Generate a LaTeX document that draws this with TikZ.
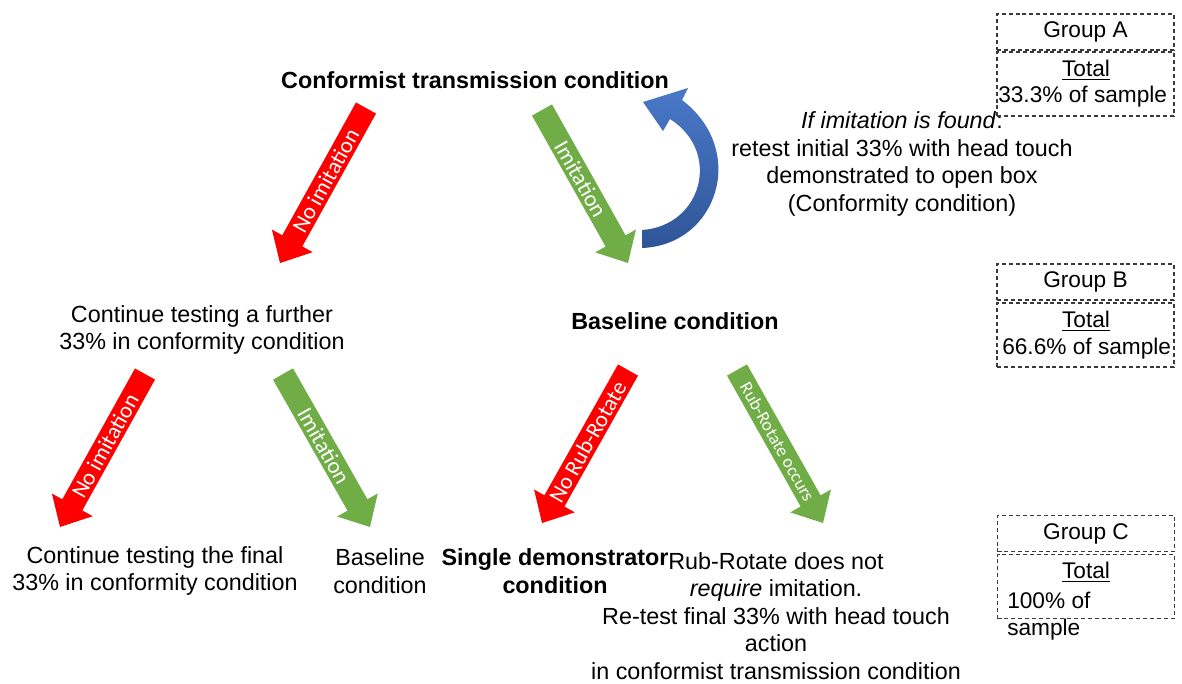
\documentclass[tikz,border=0pt]{standalone}
\usepackage{fontspec}
\setmainfont{Liberation Sans}
\newfontfamily\arrowfont{Carlito}
\usetikzlibrary{calc}

\definecolor{arrowred}{HTML}{FF0000}
\definecolor{arrowgreen}{HTML}{70AD47}
\definecolor{curveblue}{HTML}{4A78C8}
\definecolor{curvebluedark}{HTML}{2F5597}
\definecolor{boxline}{HTML}{3A3A3A}

% Block arrow: fill colour, tail, tip, label, label size, label position
\newcommand\blockarrow[6]{%
  \coordinate (ba-base) at ($(#3)!19pt!(#2)$);
  \fill[#1] ($(#2)!8.6pt!90:(#3)$) -- ($(ba-base)!8.6pt!90:(#3)$)
    -- ($(ba-base)!17.5pt!90:(#3)$) -- (#3)
    -- ($(ba-base)!17.5pt!-90:(#3)$) -- ($(ba-base)!8.6pt!-90:(#3)$)
    -- ($(#2)!8.6pt!-90:(#3)$) -- cycle;
  \path (#2) -- (#3) node[arrowlabel, font=\arrowfont\fontsize{#5}{#5}\selectfont, pos=#6] {#4};
}

\tikzset{
  maintext/.style={align=center, inner sep=0pt, text=black,
    font=\fontsize{17.5}{20.7}\selectfont},
  boldtext/.style={maintext, font=\bfseries\fontsize{17.5}{20.7}\selectfont},
  arrowlabel/.style={sloped, inner sep=0pt, text=white},
  grouphead/.style={draw=boxline, dashed, dash pattern=on 3pt off 2.2pt,
    line width=0.8pt, minimum width=132.75pt, minimum height=27pt, inner sep=0pt,
    font=\fontsize{17}{20}\selectfont},
  groupbody/.style={draw=boxline, dashed, dash pattern=on 3pt off 2.2pt,
    line width=0.8pt, minimum width=132.75pt, minimum height=48pt, inner sep=0pt},
  grouptext/.style={inner sep=0pt, font=\fontsize{17}{20}\selectfont},
}

\begin{document}
\begin{tikzpicture}[x=0.75pt, y=-0.75pt]
\useasboundingbox (0,0) rectangle (1182,683);

% Condition texts
\node[boldtext] (conf) at (475,80) {Conformist transmission condition};
\node[maintext] (note) at (902,164) {\textit{If imitation is found}:\\
  retest initial 33\% with head touch\\demonstrated to open box\\(Conformity condition)};
\node[maintext] (further) at (202,330) {Continue testing a further\\33\% in conformity condition};
\node[boldtext] (base1) at (675,321) {Baseline condition};
\node[maintext] (final) at (155,571) {Continue testing the final\\33\% in conformity condition};
\node[maintext] (base2) at (380,571) {Baseline\\condition};
\node[boldtext] (single) at (555,571) {Single demonstrator\\condition};
\node[maintext] (retest) at (776,616) {Rub-Rotate does not\\\textit{require} imitation.\\
  Re-test final 33\% with head touch\\action\\in conformist transmission condition};

% Arrow end points
\coordinate (a1t) at (366,108); \coordinate (a1h) at (280,263);
\coordinate (a2t) at (542,110); \coordinate (a2h) at (628,263);
\coordinate (a3t) at (145,374); \coordinate (a3h) at (60,527);
\coordinate (a4t) at (283,374); \coordinate (a4h) at (370,527);
\coordinate (a5t) at (628,370); \coordinate (a5h) at (542,523);
\coordinate (a6t) at (737,370); \coordinate (a6h) at (823,523);

\blockarrow{arrowred}{a1t}{a1h}{No imitation}{17}{0.47}
\blockarrow{arrowgreen}{a2t}{a2h}{Imitation}{17}{0.45}
\blockarrow{arrowred}{a3t}{a3h}{No imitation}{17}{0.47}
\blockarrow{arrowgreen}{a4t}{a4h}{Imitation}{17}{0.47}
\blockarrow{arrowred}{a5t}{a5h}{No Rub-Rotate}{17}{0.47}
\blockarrow{arrowgreen}{a6t}{a6h}{Rub-Rotate occurs}{13.5}{0.47}

% Curved return arrow
\shade[top color=curveblue, bottom color=curvebluedark]
  (642,248) .. controls (718,245) and (748,150) .. (682,100)
  -- (688,88) -- (643,102) -- (663,131) -- (670,119)
  .. controls (722,152) and (702,226) .. (642,230) -- cycle;

% Group boxes
\node[grouphead] (gA) at (1085.5,32) {Group A};
\node[groupbody] (gAb) at (1085.5,84) {};
\node[grouptext] (gAt) at (1086,70) {\underline{Total}};
\node[grouptext, anchor=west] (gAp) at (998,97) {33.3\% of sample};

\node[grouphead] (gB) at (1085.5,282) {Group B};
\node[groupbody] (gBb) at (1085.5,335) {};
\node[grouptext] (gBt) at (1086,321) {\underline{Total}};
\node[grouptext, anchor=west] (gBp) at (1002,349) {66.6\% of sample};

\node[grouphead] (gC) at (1086,533.5) {Group C};
\node[groupbody] (gCb) at (1086,586.5) {};
\node[grouptext] (gCt) at (1086,572) {\underline{Total}};
\node[grouptext, anchor=west] (gCp) at (1007,600) {100\% of};
\node[grouptext, anchor=west] (gCs) at (1007,630) {sample};
\end{tikzpicture}
\end{document}
